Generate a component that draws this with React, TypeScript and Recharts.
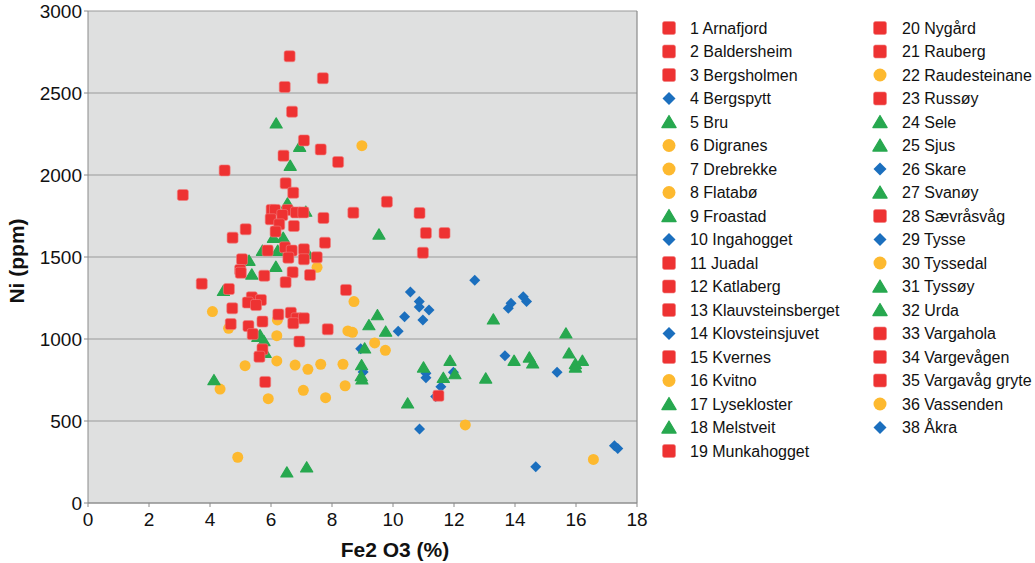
import {
  ScatterChart,
  Scatter,
  XAxis,
  YAxis,
  CartesianGrid,
  ReferenceLine,
} from "recharts"

type Pt = { x: number; y: number }
type Kind = "square" | "circle" | "triangle" | "diamond"

const COLORS: Record<Kind, string> = {
  square: "#ee3232",
  circle: "#fdb92f",
  triangle: "#27a84f",
  diamond: "#1b6fbe",
}

// red squares
const redPoints: Pt[] = [
  { x: 6.61, y: 2724 }, { x: 7.7, y: 2590 }, { x: 6.45, y: 2537 }, { x: 6.69, y: 2386 },
  { x: 7.08, y: 2211 }, { x: 7.63, y: 2156 }, { x: 6.41, y: 2118 }, { x: 8.2, y: 2079 },
  { x: 4.48, y: 2028 }, { x: 3.11, y: 1878 }, { x: 6.48, y: 1949 }, { x: 6.73, y: 1892 },
  { x: 9.8, y: 1837 }, { x: 8.7, y: 1770 }, { x: 7.72, y: 1738 }, { x: 7.77, y: 1587 },
  { x: 6.02, y: 1787 }, { x: 6.13, y: 1787 }, { x: 6.54, y: 1787 }, { x: 6.37, y: 1756 },
  { x: 6.82, y: 1772 }, { x: 7.06, y: 1772 }, { x: 5.99, y: 1730 }, { x: 6.27, y: 1699 },
  { x: 6.75, y: 1689 }, { x: 5.17, y: 1669 }, { x: 6.15, y: 1655 }, { x: 4.74, y: 1618 },
  { x: 6.46, y: 1559 }, { x: 6.68, y: 1539 }, { x: 5.89, y: 1539 }, { x: 7.08, y: 1547 },
  { x: 6.57, y: 1496 }, { x: 7.08, y: 1486 }, { x: 7.5, y: 1498 }, { x: 5.05, y: 1486 },
  { x: 4.99, y: 1421 }, { x: 5.01, y: 1404 }, { x: 5.78, y: 1386 }, { x: 6.71, y: 1407 },
  { x: 7.28, y: 1390 }, { x: 6.48, y: 1346 }, { x: 3.73, y: 1337 }, { x: 4.62, y: 1305 },
  { x: 8.46, y: 1299 }, { x: 5.37, y: 1254 }, { x: 5.67, y: 1238 }, { x: 5.24, y: 1222 },
  { x: 5.51, y: 1207 }, { x: 4.73, y: 1187 }, { x: 6.24, y: 1150 }, { x: 6.65, y: 1160 },
  { x: 6.84, y: 1126 }, { x: 7.08, y: 1126 }, { x: 6.73, y: 1096 }, { x: 5.72, y: 1106 },
  { x: 4.68, y: 1091 }, { x: 5.26, y: 1079 }, { x: 7.86, y: 1059 }, { x: 5.4, y: 1030 },
  { x: 6.93, y: 984 }, { x: 5.72, y: 937 }, { x: 5.62, y: 892 }, { x: 5.81, y: 738 },
  { x: 10.87, y: 1768 }, { x: 11.08, y: 1646 }, { x: 11.69, y: 1646 }, { x: 10.98, y: 1526 },
  { x: 11.49, y: 654 },
]

// yellow circles
const yellowPoints: Pt[] = [
  { x: 8.98, y: 2179 }, { x: 7.51, y: 1437 }, { x: 4.08, y: 1167 }, { x: 6.21, y: 1116 },
  { x: 4.61, y: 1065 }, { x: 8.52, y: 1049 }, { x: 8.67, y: 1041 }, { x: 6.19, y: 1020 },
  { x: 8.72, y: 1228 }, { x: 9.4, y: 976 }, { x: 9.75, y: 931 }, { x: 5.15, y: 837 },
  { x: 6.19, y: 866 }, { x: 6.79, y: 841 }, { x: 7.21, y: 815 }, { x: 7.63, y: 846 },
  { x: 8.36, y: 846 }, { x: 4.33, y: 695 }, { x: 8.43, y: 715 }, { x: 7.06, y: 687 },
  { x: 5.91, y: 636 }, { x: 7.79, y: 642 }, { x: 4.91, y: 279 }, { x: 12.37, y: 476 },
  { x: 16.57, y: 266 },
]

// green triangles
const greenPoints: Pt[] = [
  { x: 6.17, y: 2315 }, { x: 6.94, y: 2173 }, { x: 6.63, y: 2057 }, { x: 9.54, y: 1638 },
  { x: 6.54, y: 1827 }, { x: 7.14, y: 1777 }, { x: 6.08, y: 1618 }, { x: 6.4, y: 1618 },
  { x: 5.72, y: 1539 }, { x: 6.22, y: 1539 }, { x: 7.22, y: 1518 }, { x: 5.28, y: 1478 },
  { x: 5.37, y: 1394 }, { x: 6.16, y: 1441 }, { x: 4.44, y: 1294 }, { x: 5.64, y: 1024 },
  { x: 9.49, y: 1146 }, { x: 9.21, y: 1085 }, { x: 9.76, y: 1046 }, { x: 5.57, y: 1014 },
  { x: 5.77, y: 988 }, { x: 5.81, y: 916 }, { x: 9.07, y: 943 }, { x: 8.97, y: 841 },
  { x: 8.96, y: 774 }, { x: 8.98, y: 754 }, { x: 4.13, y: 750 }, { x: 6.52, y: 187 },
  { x: 7.17, y: 218 }, { x: 11.0, y: 827 }, { x: 11.87, y: 868 }, { x: 12.03, y: 786 },
  { x: 11.65, y: 764 }, { x: 10.48, y: 608 }, { x: 13.29, y: 1120 }, { x: 13.04, y: 760 },
  { x: 13.97, y: 868 }, { x: 14.47, y: 888 }, { x: 14.58, y: 852 }, { x: 15.67, y: 1035 },
  { x: 15.77, y: 913 }, { x: 15.98, y: 848 }, { x: 15.98, y: 827 }, { x: 16.21, y: 868 },
]

// blue diamonds
const bluePoints: Pt[] = [
  { x: 8.94, y: 941 }, { x: 9.02, y: 799 }, { x: 12.68, y: 1358 }, { x: 10.57, y: 1287 },
  { x: 10.86, y: 1228 }, { x: 10.86, y: 1195 }, { x: 11.18, y: 1177 }, { x: 10.98, y: 1116 },
  { x: 10.38, y: 1136 }, { x: 10.17, y: 1047 }, { x: 11.08, y: 791 }, { x: 11.08, y: 764 },
  { x: 11.98, y: 797 }, { x: 11.57, y: 709 }, { x: 11.4, y: 650 }, { x: 10.87, y: 451 },
  { x: 13.78, y: 1187 }, { x: 13.87, y: 1218 }, { x: 14.27, y: 1258 }, { x: 14.38, y: 1228 },
  { x: 13.67, y: 898 }, { x: 15.38, y: 797 }, { x: 14.68, y: 221 }, { x: 17.26, y: 349 },
  { x: 17.37, y: 333 },
]

const sitesLeft: [string, Kind][] = [
  ["1 Arnafjord", "square"],
  ["2 Baldersheim", "square"],
  ["3 Bergsholmen", "square"],
  ["4 Bergspytt", "diamond"],
  ["5 Bru", "triangle"],
  ["6 Digranes", "circle"],
  ["7 Drebrekke", "circle"],
  ["8 Flatabø", "circle"],
  ["9 Froastad", "triangle"],
  ["10 Ingahogget", "diamond"],
  ["11 Juadal", "square"],
  ["12 Katlaberg", "square"],
  ["13 Klauvsteinsberget", "square"],
  ["14 Klovsteinsjuvet", "diamond"],
  ["15 Kvernes", "square"],
  ["16 Kvitno", "circle"],
  ["17 Lysekloster", "triangle"],
  ["18 Melstveit", "triangle"],
  ["19 Munkahogget", "square"],
]

const sitesRight: [string, Kind][] = [
  ["20 Nygård", "square"],
  ["21 Rauberg", "square"],
  ["22 Raudesteinane", "circle"],
  ["23 Russøy", "square"],
  ["24 Sele", "triangle"],
  ["25 Sjus", "triangle"],
  ["26 Skare", "diamond"],
  ["27 Svanøy", "triangle"],
  ["28 Sævråsvåg", "square"],
  ["29 Tysse", "diamond"],
  ["30 Tyssedal", "circle"],
  ["31 Tyssøy", "triangle"],
  ["32 Urda", "triangle"],
  ["33 Vargahola", "square"],
  ["34 Vargevågen", "square"],
  ["35 Vargavåg gryte", "square"],
  ["36 Vassenden", "circle"],
  ["38 Åkra", "diamond"],
]

const xTicks = [0, 2, 4, 6, 8, 10, 12, 14, 16, 18]
const yTicks = [0, 500, 1000, 1500, 2000, 2500, 3000]

const FONT = "'Liberation Sans', Arial, sans-serif"

const drawMarker = (kind: Kind, cx: number, cy: number, s: number) => {
  const fill = COLORS[kind]
  const h = s / 2
  if (kind === "square")
    return <rect x={cx - h} y={cy - h} width={s} height={s} rx={2} fill={fill} stroke="#f08080" strokeWidth={0.6} />
  if (kind === "circle") return <circle cx={cx} cy={cy} r={h} fill={fill} />
  if (kind === "triangle")
    return <polygon points={`${cx},${cy - h} ${cx + h * 1.1},${cy + h * 0.85} ${cx - h * 1.1},${cy + h * 0.85}`} fill={fill} strokeLinejoin="round" stroke={fill} strokeWidth={1.2} />
  return <polygon points={`${cx},${cy - h} ${cx + h},${cy} ${cx},${cy + h} ${cx - h},${cy}`} fill={fill} />
}

const shapeFor = (kind: Kind, s: number) => (props: any) => drawMarker(kind, props.cx, props.cy, s)

const LegendColumn = ({ items, mx, tx }: { items: [string, Kind][]; mx: number; tx: number }) => (
  <g>
    {items.map(([name, kind], i) => {
      const y = 28 + i * 23.5
      return (
        <g key={name}>
          {drawMarker(kind, mx, y, 13)}
          <text x={tx} y={y} dominantBaseline="central" fontSize={16} fill="#111" fontFamily={FONT}>
            {name}
          </text>
        </g>
      )
    })}
  </g>
)

export default function App() {
  return (
    <div style={{ position: "absolute", left: 0, top: 0, width: 1035, height: 563, background: "#fff" }}>
      <ScatterChart width={1035} height={563} margin={{ top: 11, right: 398, bottom: 30, left: 0 }}>
        <CartesianGrid vertical={false} fill="#dfe0e0" stroke="#9a9a9a" strokeWidth={1.2} horizontalValues={yTicks} />
        <XAxis
          type="number"
          dataKey="x"
          domain={[0, 18]}
          ticks={xTicks}
          height={30}
          tickSize={4}
          tickMargin={6}
          stroke="#8a8a8a"
          tick={{ fill: "#111", fontSize: 19, fontFamily: FONT }}
        />
        <YAxis
          type="number"
          dataKey="y"
          domain={[0, 3000]}
          ticks={yTicks}
          width={88}
          tickSize={4}
          tickMargin={2}
          stroke="#8a8a8a"
          tick={{ fill: "#111", fontSize: 19, fontFamily: FONT }}
        />
        <ReferenceLine x={18} stroke="#8a8a8a" strokeWidth={1.2} />
        <Scatter data={bluePoints} isAnimationActive={false} shape={shapeFor("diamond", 11)} />
        <Scatter data={yellowPoints} isAnimationActive={false} shape={shapeFor("circle", 11)} />
        <Scatter data={greenPoints} isAnimationActive={false} shape={shapeFor("triangle", 11)} />
        <Scatter data={redPoints} isAnimationActive={false} shape={shapeFor("square", 11)} />
      </ScatterChart>
      <svg width={1035} height={563} style={{ position: "absolute", left: 0, top: 0, pointerEvents: "none" }}>
        <text
          x={16}
          y={261}
          transform="rotate(-90 16 261)"
          textAnchor="middle"
          dominantBaseline="central"
          fontSize={21}
          fontWeight="bold"
          fill="#111"
          fontFamily={FONT}
        >
          Ni (ppm)
        </text>
        <text x={395} y={549} textAnchor="middle" dominantBaseline="central" fontSize={21} fontWeight="bold" fill="#111" fontFamily={FONT}>
          Fe2 O3 (%)
        </text>
        <LegendColumn items={sitesLeft} mx={669} tx={690} />
        <LegendColumn items={sitesRight} mx={880} tx={902} />
      </svg>
    </div>
  )
}
